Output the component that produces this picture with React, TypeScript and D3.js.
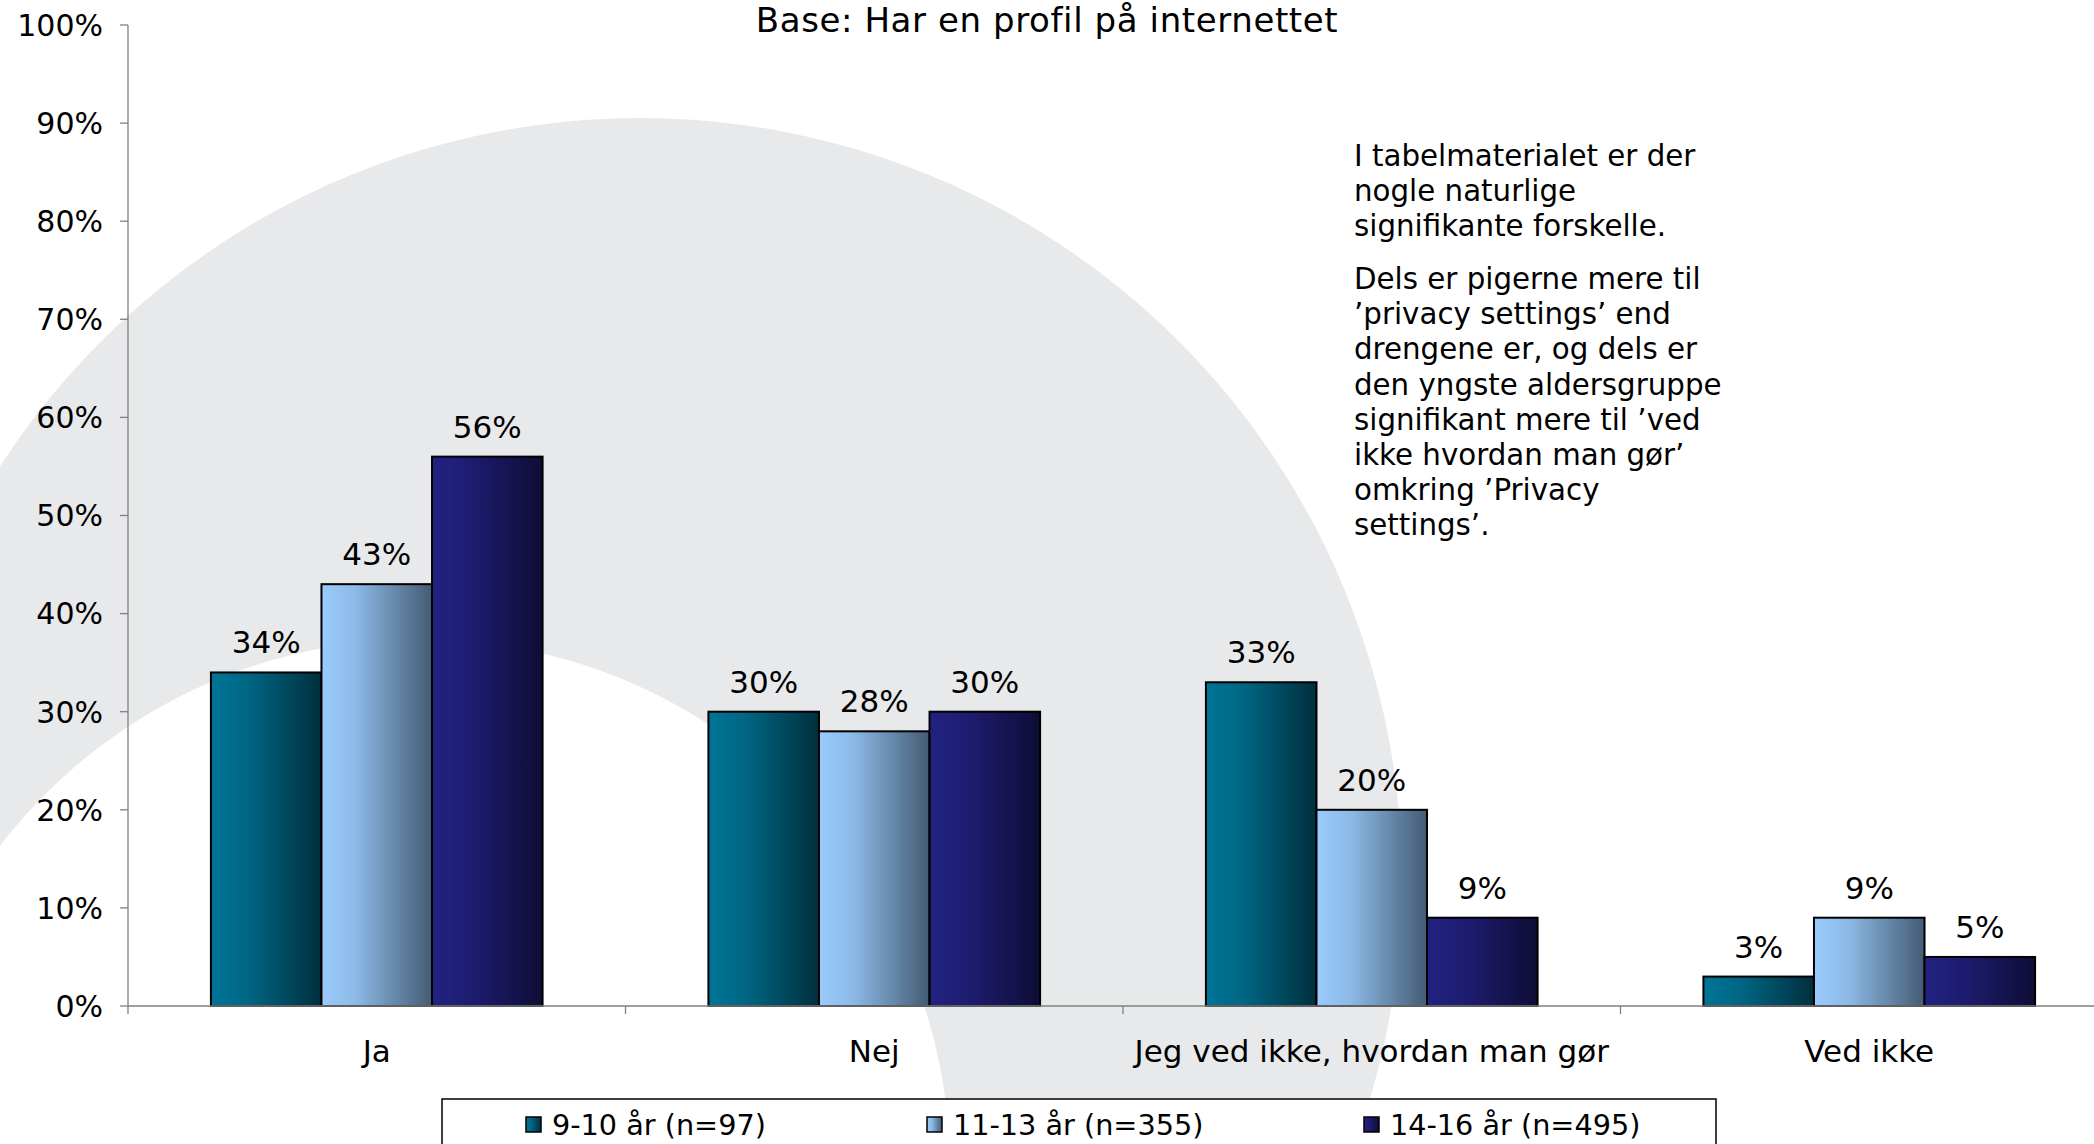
import React from 'react';
import * as d3 from 'd3';

const categories = ['Ja', 'Nej', 'Jeg ved ikke, hvordan man gør', 'Ved ikke'];
const seriesNames = ['9-10 år (n=97)', '11-13 år (n=355)', '14-16 år (n=495)'];
const age9to10 = [34, 30, 33, 3];
const age11to13 = [43, 28, 20, 9];
const age14to16 = [56, 30, 9, 5];
const yTicks = [0, 10, 20, 30, 40, 50, 60, 70, 80, 90, 100];
const title = 'Base: Har en profil på internettet';
const notePara1 = ['I tabelmaterialet er der', 'nogle naturlige', 'signifikante forskelle.'];
const notePara2 = [
  'Dels er pigerne mere til',
  '’privacy settings’ end',
  'drengene er, og dels er',
  'den yngste aldersgruppe',
  'signifikant mere til ’ved',
  'ikke hvordan man gør’',
  'omkring ’Privacy',
  'settings’.',
];

const series = [age9to10, age11to13, age14to16];
const gradients = [
  [['0', '#007598'], ['0.35', '#006582'], ['1', '#012f3e']],
  [['0', '#9acbfc'], ['0.3', '#8dbbe8'], ['1', '#445b73']],
  [['0', '#222283'], ['0.35', '#1e1c70'], ['1', '#0e0d36']],
];

const W = 2094;
const H = 1144;
const font = '"DejaVu Sans", Verdana, sans-serif';

export default function App() {
  const left = 128;
  const step = 497.5;
  const x0 = d3.scaleBand().domain(categories).range([left, left + step * categories.length]);
  const x1 = d3.scaleBand().domain(seriesNames).range([0, x0.bandwidth()]).paddingOuter(0.75);
  const y = d3.scaleLinear().domain([0, 100]).range([1006, 25]);

  // background swoosh: big gray ring
  const bg = 'bgmask';
  return (
    <svg width={W} height={H} style={{ position: 'absolute', left: 0, top: 0, background: '#fff' }} fontFamily={font}>
      <defs>
        {gradients.map((g, i) => (
          <linearGradient key={i} id={'grad' + i} x1="0" x2="1" y1="0" y2="0">
            {g.map(([o, c]) => <stop key={o} offset={o} stopColor={c} />)}
          </linearGradient>
        ))}
        <mask id={bg}>
          <rect width={W} height={H} fill="#fff" />
          <circle cx={420} cy={1169} r={530} fill="#000" />
        </mask>
      </defs>
      <circle cx={640} cy={880} r={762} fill="#e8e9eb" mask={`url(#${bg})`} />

      <text x={1047} y={32} textAnchor="middle" fontSize={34} letterSpacing={0.6} fill="#000">{title}</text>

      {/* y axis */}
      <line x1={left} x2={left} y1={y(0)} y2={y(100)} stroke="#808080" strokeWidth={1.3} />
      {yTicks.map(t => (
        <g key={t}>
          <line x1={left - 8} x2={left} y1={y(t)} y2={y(t)} stroke="#808080" strokeWidth={1.3} />
          <text x={103} y={y(t)} dy="0.36em" textAnchor="end" fontSize={30} fill="#000">{t}%</text>
        </g>
      ))}

      {/* bars */}
      {categories.map((c, ci) => (
        <g key={c} transform={`translate(${x0(c)},0)`}>
          {series.map((s, si) => (
            <g key={si}>
              <rect x={x1(seriesNames[si])} y={y(s[ci])} width={x1.bandwidth()} height={y(0) - y(s[ci])}
                fill={`url(#grad${si})`} stroke="#000" strokeWidth={2} />
              <text x={(x1(seriesNames[si]) as number) + x1.bandwidth() / 2} y={y(s[ci]) - 19}
                textAnchor="middle" fontSize={31} fill="#000">{s[ci]}%</text>
            </g>
          ))}
        </g>
      ))}

      {/* x axis */}
      <line x1={left} x2={W} y1={y(0)} y2={y(0)} stroke="#808080" strokeWidth={1.3} />
      {categories.map((c, ci) => (
        <g key={c}>
          <line x1={x0(c)} x2={x0(c)} y1={y(0)} y2={y(0) + 8} stroke="#808080" strokeWidth={1.3} />
          <text x={(x0(c) as number) + x0.bandwidth() / 2} y={1062} textAnchor="middle" fontSize={31} fill="#000">{c}</text>
        </g>
      ))}

      {/* note */}
      <text fontSize={29.3} fill="#000">
        {notePara1.map((l, i) => <tspan key={'a' + i} x={1354} y={166 + i * 35}>{l}</tspan>)}
        {notePara2.map((l, i) => <tspan key={'b' + i} x={1354} y={289 + i * 35.2}>{l}</tspan>)}
      </text>

      {/* legend */}
      <rect x={442} y={1099} width={1274} height={80} fill="#fff" stroke="#000" strokeWidth={1.5} />
      {seriesNames.map((n, i) => {
        const lx = [526, 927, 1364][i];
        return (
          <g key={n}>
            <rect x={lx} y={1117} width={15} height={15} fill={`url(#grad${i})`} stroke="#000" strokeWidth={1.5} />
            <text x={lx + 26} y={1135} fontSize={28.7} fill="#000">{n}</text>
          </g>
        );
      })}
    </svg>
  );
}
